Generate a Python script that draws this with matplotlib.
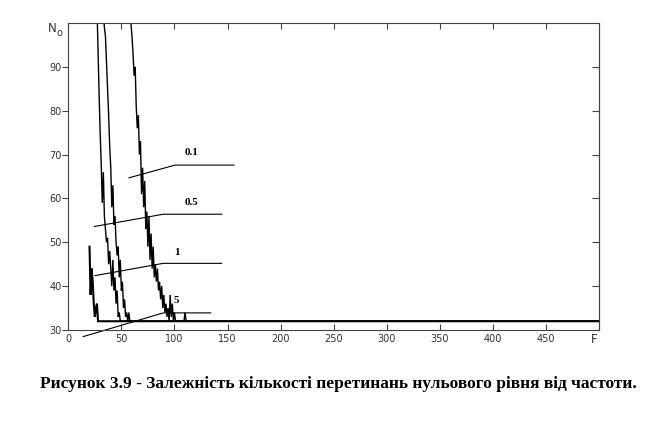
import matplotlib
matplotlib.use('Agg')
import matplotlib.pyplot as plt

# ---- data ----
f_01 = list(range(57, 112)) + [500]
n_01 = [106, 103, 100, 97, 93, 88, 90, 81, 76, 79,
        70, 73, 61, 67, 58, 64, 53, 57, 49, 56,
        46, 52, 44, 49, 42, 45, 41, 44, 39, 41,
        37, 40, 35, 38, 34, 36, 33, 35, 32, 38,
        33, 36, 32, 34, 32, 32, 32, 32, 32, 32,
        32, 32, 32, 34, 32] + [32]

f_05 = list(range(31, 59)) + [500]
n_05 = [110, 106, 103, 99, 97, 91, 85, 79, 72, 67,
        58, 63, 54, 56, 50, 47, 49, 42, 46, 39,
        41, 35, 37, 33, 34, 32, 34, 32] + [32]

f_1 = list(range(26, 50)) + [500]
n_1 = [112, 104, 94, 84, 75, 68, 59, 66, 56, 53,
       50, 51, 45, 48, 44, 40, 46, 39, 42, 36,
       39, 33, 34, 32] + [32]

f_5 = list(range(20, 30)) + [500]
n_5 = [49, 38, 44, 41, 36, 33, 35, 36, 32, 32] + [32]

curve_labels = ["0.1", "0.5", "1", "5"]
label_pos = [(116.5, 70.4), (116.3, 59.0), (102.1, 47.6), (102.1, 36.8)]
leaders = [
    [(57.2, 64.7), (100.5, 67.6), (156.1, 67.6)],
    [(24.5, 53.6), (89.5, 56.4), (144.5, 56.4)],
    [(25.2, 42.4), (89.5, 45.2), (144.5, 45.2)],
    [(14.1, 28.5), (89.5, 33.9), (134.2, 33.9)],
]
xticks = [0, 50, 100, 150, 200, 250, 300, 350, 400, 450]
yticks = [30, 40, 50, 60, 70, 80, 90]
caption = "Рисунок 3.9 - Залежність кількості перетинань нульового рівня від частоти."

# ---- figure ----
fig = plt.figure(figsize=(6.51, 4.44), dpi=100)
ax = fig.add_axes([68.3 / 651, 1 - 330 / 444, (599 - 68.3) / 651, (330 - 23) / 444])

for fx, ny, lw in [(f_01, n_01, 1.0), (f_05, n_05, 1.0), (f_1, n_1, 1.0), (f_5, n_5, 1.5)]:
    ax.plot(fx, ny, color='black', lw=lw, solid_joinstyle='miter')

for lab, (lx, ly), pts in zip(curve_labels, label_pos, leaders):
    xs = [p[0] for p in pts]
    ys = [p[1] for p in pts]
    ax.plot(xs, ys, color='black', lw=0.8, clip_on=False)
    ax.text(lx, ly, lab, fontsize=8, fontweight='bold', family='Liberation Serif',
            ha='center', va='center')

ax.set_xlim(0, 500)
ax.set_ylim(30, 100)

tick_font = ['Liberation Sans Narrow', 'DejaVu Sans']
ax.set_xticks(xticks)
ax.set_xticklabels([str(v) for v in xticks], family=tick_font, fontsize=7, color='#333333')
ax.set_yticks(yticks)
ax.set_yticklabels([str(v) for v in yticks], family=tick_font, fontsize=7, color='#333333')
ax.tick_params(axis='x', direction='in', top=True, bottom=True, length=4, width=0.8,
               color='#444444', pad=3)
ax.tick_params(axis='y', direction='out', left=True, right=False, length=4, width=0.8,
               color='#444444', pad=1)

sec = ax.secondary_yaxis('right')
sec.set_yticks(yticks)
sec.tick_params(direction='in', length=5, width=0.8, color='#444444', labelright=False)
sec.spines['right'].set_color('#444444')
sec.spines['right'].set_linewidth(0.8)

for s in ax.spines.values():
    s.set_color('#444444')
    s.set_linewidth(0.8)

# axis names
fig.text(52 / 651, 1 - 28 / 444, 'N', fontsize=8.5, color='#333333', ha='center', va='center')
fig.text(59 / 651, 1 - 32.5 / 444, 'o', fontsize=7, color='#333333', ha='center', va='center')
fig.text(593.7 / 651, 1 - 339.5 / 444, 'F', fontsize=8.5, color='#333333', ha='center', va='center')

fig.text(338 / 651, 1 - 384 / 444, caption, fontsize=12.5, fontweight='bold',
         family='Liberation Serif', ha='center', va='center')

fig.savefig('out.png', dpi=100)
